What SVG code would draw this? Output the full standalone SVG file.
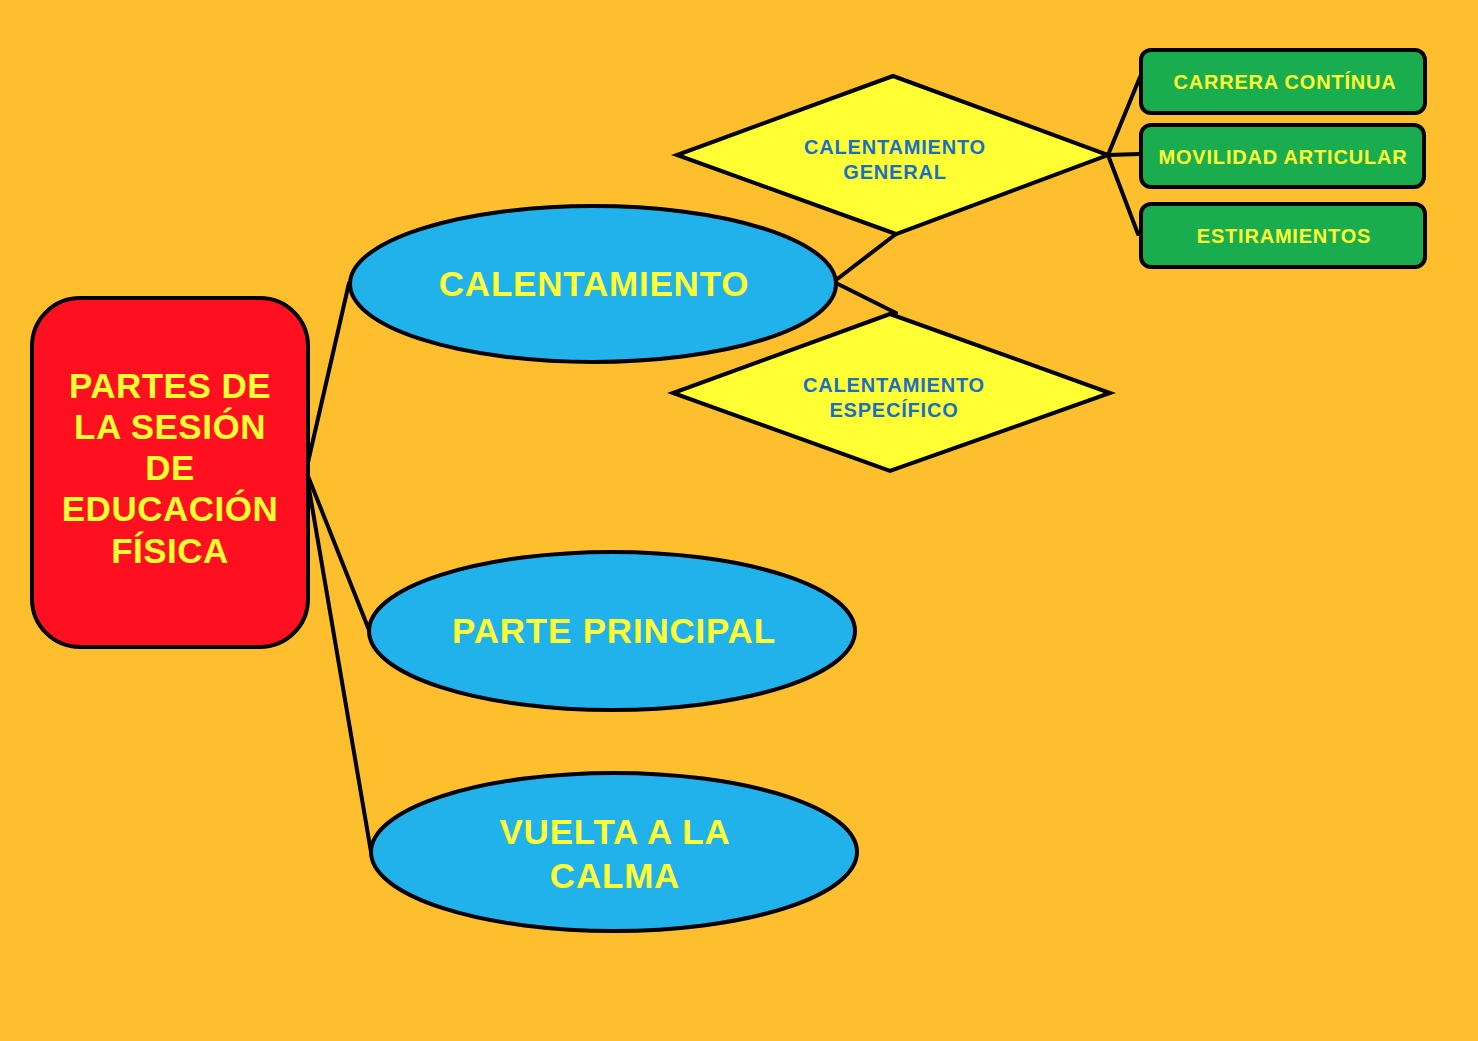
<svg xmlns="http://www.w3.org/2000/svg" width="1478" height="1041" viewBox="0 0 1478 1041">
<style>
.ln{stroke:#000;stroke-width:4;fill:none;stroke-linecap:round}
.sh{stroke:#000;stroke-width:4}
.t{font-family:"Liberation Sans",Arial,sans-serif;font-weight:bold;text-anchor:middle}
.ty{fill:#FFFF33}
.tb{fill:#1A6FC2}
.big{font-size:35px;letter-spacing:0.8px}
.sm{font-size:20px;letter-spacing:0.8px}
</style>
<rect width="1478" height="1041" fill="#FDBF2E"/>
<g id="connectors">
<line class="ln" x1="306" y1="471" x2="349" y2="283"/>
<line class="ln" x1="306" y1="471" x2="369" y2="630"/>
<line class="ln" x1="306" y1="471" x2="371" y2="852"/>
<line class="ln" x1="836" y1="280" x2="896" y2="234"/>
<line class="ln" x1="836" y1="283" x2="896" y2="313"/>
<line class="ln" x1="1108" y1="155" x2="1140" y2="77"/>
<line class="ln" x1="1108" y1="155" x2="1140" y2="154"/>
<line class="ln" x1="1108" y1="155" x2="1138" y2="234"/>
</g>
<g id="root">
<rect class="sh" x="32" y="298" width="276" height="349" rx="48" fill="#FF1020"/>
<text class="t ty" font-size="35" letter-spacing="0.5" x="170" y="398">PARTES DE</text>
<text class="t ty" font-size="35" letter-spacing="0.5" x="170" y="439">LA SESIÓN</text>
<text class="t ty" font-size="35" letter-spacing="0.5" x="170" y="480">DE</text>
<text class="t ty" font-size="35" letter-spacing="0.5" x="170" y="521">EDUCACIÓN</text>
<text class="t ty" font-size="35" letter-spacing="0.5" x="170" y="563">FÍSICA</text>
</g>
<g id="calentamiento">
<ellipse class="sh" cx="593" cy="284" rx="243" ry="78" fill="#21B1EB"/>
<text class="t ty big" x="594" y="296">CALENTAMIENTO</text>
</g>
<g id="parte-principal">
<ellipse class="sh" cx="612" cy="631" rx="243" ry="79" fill="#21B1EB"/>
<text class="t ty big" x="614" y="643">PARTE PRINCIPAL</text>
</g>
<g id="vuelta-calma">
<ellipse class="sh" cx="614" cy="852" rx="243" ry="79" fill="#21B1EB"/>
<text class="t ty big" x="615" y="844">VUELTA A LA</text>
<text class="t ty big" x="615" y="888">CALMA</text>
</g>
<g id="cal-general">
<polygon class="sh" points="893,76 1108,155 896,234 677,155" fill="#FFFF33"/>
<text class="t tb sm" x="895" y="154">CALENTAMIENTO</text>
<text class="t tb sm" x="895" y="179">GENERAL</text>
</g>
<g id="cal-especifico">
<polygon class="sh" points="890,314 1110,393 890,471 673,393" fill="#FFFF33"/>
<text class="t tb sm" x="894" y="392">CALENTAMIENTO</text>
<text class="t tb sm" x="894" y="417">ESPECÍFICO</text>
</g>
<g id="carrera">
<rect class="sh" x="1141" y="50" width="284" height="63" rx="10" fill="#19AD50"/>
<text class="t ty sm" x="1285" y="89">CARRERA CONTÍNUA</text>
</g>
<g id="movilidad">
<rect class="sh" x="1141" y="125" width="283" height="62" rx="10" fill="#19AD50"/>
<text class="t ty sm" x="1283" y="164">MOVILIDAD ARTICULAR</text>
</g>
<g id="estiramientos">
<rect class="sh" x="1141" y="204" width="284" height="63" rx="10" fill="#19AD50"/>
<text class="t ty sm" x="1284" y="243">ESTIRAMIENTOS</text>
</g>
</svg>
